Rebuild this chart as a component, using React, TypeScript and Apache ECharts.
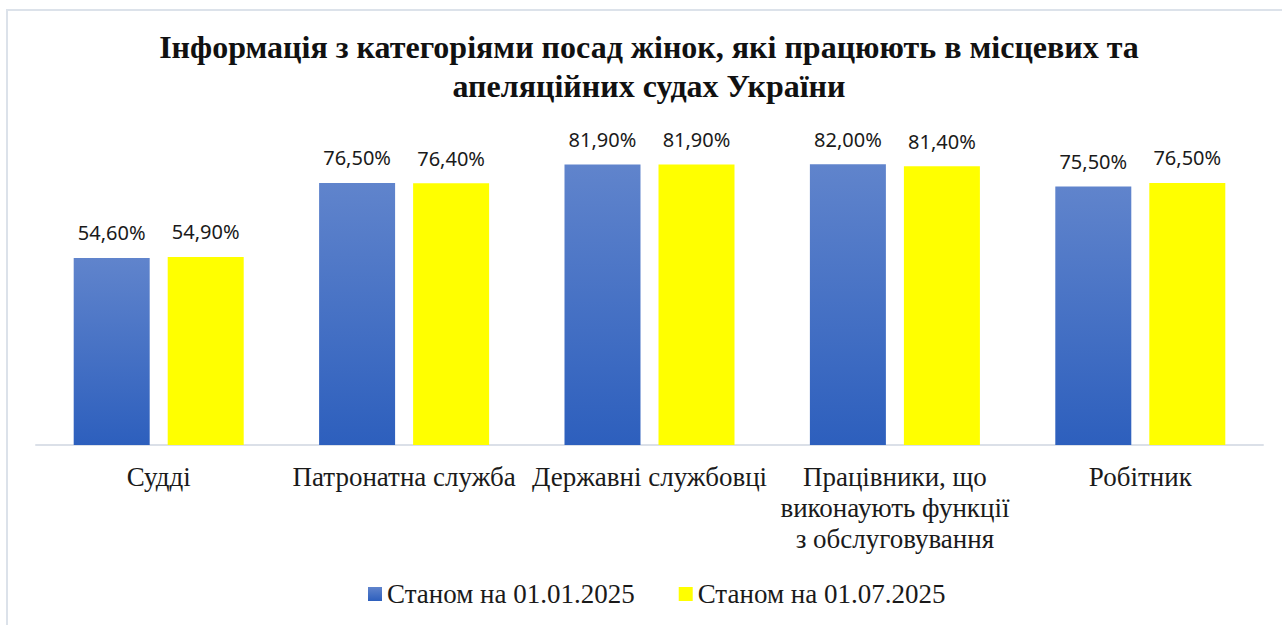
import React, { useEffect, useRef } from "react";
import * as echarts from "echarts";

const titleText = "Інформація з категоріями посад жінок, які працюють в місцевих та\nапеляційних судах України";
const categories = [
  "Судді",
  "Патронатна служба",
  "Державні службовці",
  "Працівники, що\nвиконаують функції\nз обслуговування",
  "Робітник",
];
const seriesNames = ["Станом на 01.01.2025", "Станом на 01.07.2025"];
const valuesJan = [54.6, 76.5, 81.9, 82.0, 75.5];
const valuesJul = [54.9, 76.4, 81.9, 81.4, 76.5];

const fmt = (v: number) => v.toFixed(2).replace(".", ",") + "%";
const SERIF = "Liberation Serif";

export default function App() {
  const ref = useRef<HTMLDivElement>(null);
  useEffect(() => {
    if (!ref.current) return;
    const chart = echarts.init(ref.current, null, { renderer: "svg" });
    const blue = new echarts.graphic.LinearGradient(0, 0, 0, 1, [
      { offset: 0, color: "#6084cc" },
      { offset: 1, color: "#2d5fbd" },
    ]);
    const labelCfg = {
      show: true,
      position: "top",
      distance: 15,
      fontFamily: "Noto Sans",
      fontSize: 20,
      color: "#1a1a1a",
      formatter: (p: any) => fmt(p.value),
    };
    chart.setOption({
      animation: false,
      backgroundColor: "#ffffff",
      title: {
        text: titleText,
        left: 649,
        top: 27,
        padding: 0,
        textAlign: "center",
        textStyle: {
          fontFamily: SERIF,
          fontWeight: "bold",
          fontSize: 32,
          lineHeight: 39,
          color: "#111111",
        },
      },
      graphic: [
        {
          type: "rect",
          shape: { x: 7, y: 10, width: 1290, height: 700 },
          style: { fill: "none", stroke: "#dce2ea", lineWidth: 2 },
          silent: true,
        },
      ],
      legend: {
        left: 368,
        top: 579,
        padding: 0,
        itemWidth: 14,
        itemHeight: 14,
        itemGap: 44,
        icon: "rect",
        textStyle: {
          fontFamily: SERIF,
          fontSize: 27,
          lineHeight: 30,
          color: "#1a1a1a",
        },
        data: seriesNames,
      },
      grid: { left: 36, right: 19, top: 102.5, bottom: 180 },
      xAxis: {
        type: "category",
        data: categories,
        axisLine: { lineStyle: { color: "#dbe0e8", width: 2 } },
        axisTick: { show: false },
        axisLabel: {
          fontFamily: SERIF,
          fontSize: 27,
          lineHeight: 31,
          margin: 16,
          color: "#1a1a1a",
          interval: 0,
        },
      },
      yAxis: {
        type: "value",
        min: 0,
        max: 100,
        show: false,
        splitLine: { show: false },
      },
      series: [
        {
          name: seriesNames[0],
          type: "bar",
          data: valuesJan,
          barWidth: 76,
          barGap: "23.7%",
          itemStyle: { color: blue },
          label: labelCfg,
        },
        {
          name: seriesNames[1],
          type: "bar",
          data: valuesJul,
          barWidth: 76,
          barGap: "23.7%",
          itemStyle: { color: "#ffff00" },
          label: labelCfg,
        },
      ],
    });
    return () => chart.dispose();
  }, []);
  return (
    <div
      ref={ref}
      style={{ position: "fixed", left: 0, top: 0, width: 1282, height: 625 }}
    />
  );
}
